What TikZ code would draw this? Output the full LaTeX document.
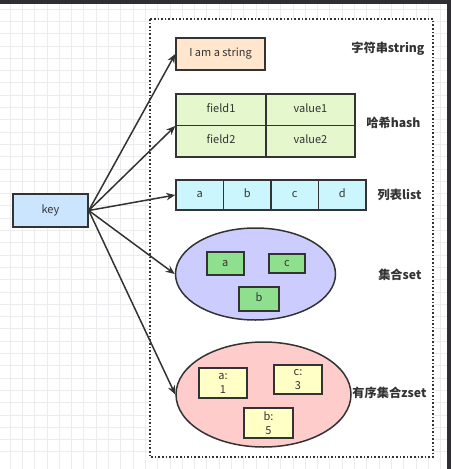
\documentclass[tikz,border=0pt]{standalone}
\usepackage{fontspec}
\setmainfont{Noto Sans CJK SC}
\usepackage{xcolor}
\usetikzlibrary{shapes.geometric, arrows.meta}

\definecolor{strfill}{HTML}{FFE6CC}
\definecolor{hashfill}{HTML}{E4F7CD}
\definecolor{listfill}{HTML}{CCF6FD}
\definecolor{setfill}{HTML}{CCCCFF}
\definecolor{setitem}{HTML}{8EE08E}
\definecolor{zsetfill}{HTML}{FFCCCC}
\definecolor{zsetitem}{HTML}{FFFFC6}
\definecolor{keyfill}{HTML}{CCE5FF}
\definecolor{ink}{HTML}{333333}
\definecolor{gridline}{HTML}{ECECEF}
\definecolor{darkbar}{HTML}{2E2F33}

\begin{document}
\begin{tikzpicture}[x=1pt, y=-1pt]

\tikzstyle{cell} = [rectangle, draw=ink, line width=1.5pt, text=ink, inner sep=0pt, align=center, font=\fontsize{11}{14}\selectfont]
\tikzstyle{word} = [cell, text height=8pt, text depth=2.5pt]
\tikzstyle{bag} = [ellipse, draw=ink, line width=1.5pt, inner sep=0pt]
\tikzstyle{typename} = [anchor=east, text=ink, font=\fontsize{12.2}{14}\selectfont\bfseries]
\tikzstyle{arrow} = [draw=ink, line width=1.5pt, -{Stealth[length=9pt, width=7.5pt]}]

% background
\useasboundingbox (0,0) rectangle (451,469);
\fill[white] (0,0) rectangle (451,469);
\foreach \i in {0,...,36} {
  \draw[gridline, line width=0.8pt] (10+12.3*\i,0) -- (10+12.3*\i,469);
  \draw[gridline, line width=0.8pt] (0,9+12.3*\i) -- (451,9+12.3*\i);
}
\fill[white] (150,19) rectangle (433,457);
\draw[ink, line width=1.6pt, dash pattern=on 1.6pt off 2pt] (150,19) rectangle (433,457);
\fill[darkbar] (0,0) rectangle (451,4);
\fill[darkbar] (447,0) rectangle (451,469);

\node (key) [word, fill=keyfill, minimum width=75pt, minimum height=33pt] at (50.5,210.5) {key};

\node (str) [word, fill=strfill, minimum width=89pt, minimum height=32pt] at (220.5,54) {I am a string};
\node (strname) [typename] at (428,49) {字符串string};

\node (f1) [word, fill=hashfill, minimum width=90pt, minimum height=31.5pt] at (221,109.5) {field1};
\node (v1) [word, fill=hashfill, minimum width=89pt, minimum height=31.5pt] at (310.5,109.5) {value1};
\node (f2) [word, fill=hashfill, minimum width=90pt, minimum height=31.5pt] at (221,141) {field2};
\node (v2) [word, fill=hashfill, minimum width=89pt, minimum height=31.5pt] at (310.5,141) {value2};
\node (hashname) [typename] at (424,123) {哈希hash};

\node (la) [word, fill=listfill, minimum width=47.5pt, minimum height=30pt] at (199.75,195) {a};
\node (lb) [word, fill=listfill, minimum width=47.5pt, minimum height=30pt] at (247.25,195) {b};
\node (lc) [word, fill=listfill, minimum width=47.5pt, minimum height=30pt] at (294.75,195) {c};
\node (ld) [word, fill=listfill, minimum width=47.5pt, minimum height=30pt] at (342.25,195) {d};
\node (listname) [typename] at (425,195) {列表list};

\node (set) [bag, fill=setfill, minimum width=160pt, minimum height=92pt] at (255.5,274) {};
\node (sa) [word, fill=setitem, minimum width=37pt, minimum height=23pt] at (225.3,263.5) {a};
\node (sc) [word, fill=setitem, minimum width=36pt, minimum height=19pt] at (287,263.5) {c};
\node (sb) [word, fill=setitem, minimum width=40pt, minimum height=24pt] at (259,299) {b};
\node (setname) [typename] at (425,275) {集合set};

\node (zset) [bag, fill=zsetfill, minimum width=175pt, minimum height=105pt] at (263.5,394.5) {};
\node (za) [cell, fill=zsetitem, minimum width=48pt, minimum height=30pt] at (223,383) {a:\\1};
\node (zc) [cell, fill=zsetitem, minimum width=48pt, minimum height=29pt] at (298,379.5) {c:\\3};
\node (zb) [cell, fill=zsetitem, minimum width=49pt, minimum height=30pt] at (268.5,423) {b:\\5};
\node (zsetname) [typename] at (430,393) {有序集合zset};

\draw [arrow] (key.east) -- (str.west);
\draw [arrow] (key.east) -- (f1.south west);
\draw [arrow] (key.east) -- (la.west);
\draw [arrow] (key.east) -- (set.west);
\draw [arrow] (key.east) -- (zset.west);

\end{tikzpicture}
\end{document}
